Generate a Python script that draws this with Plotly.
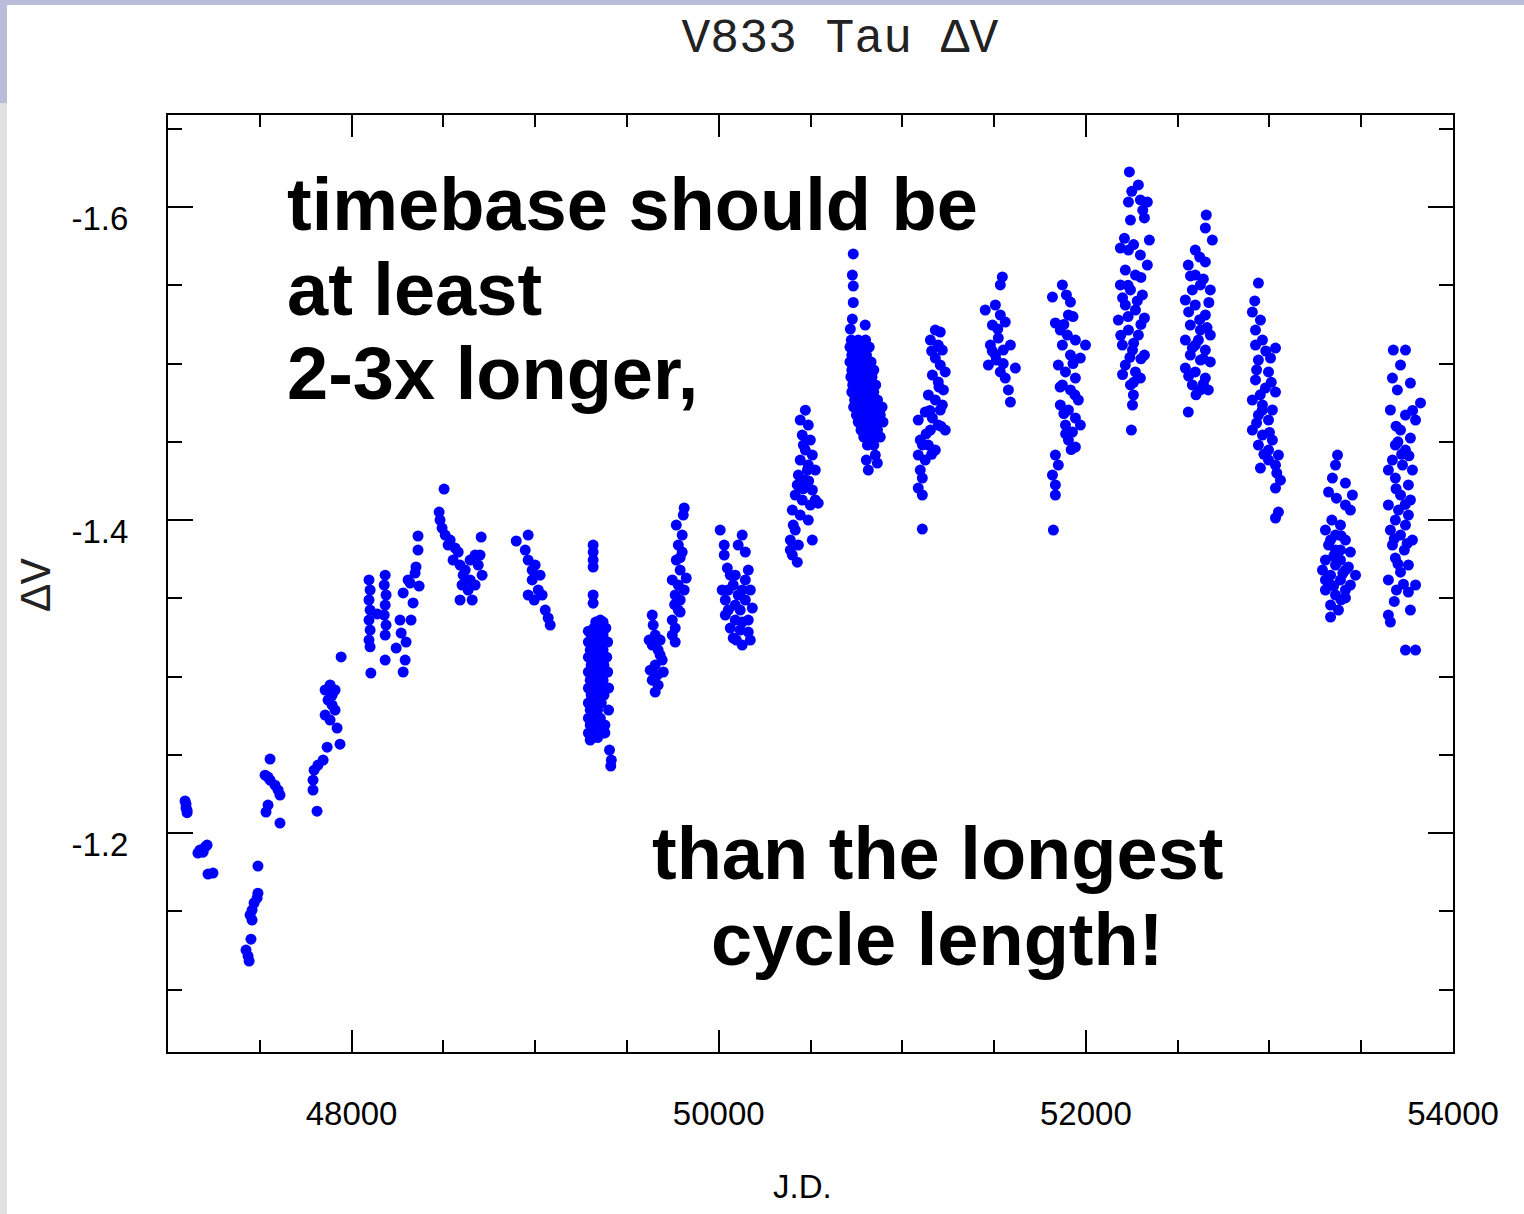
import plotly.graph_objects as go

# ---- V833 Tau differential V photometry, grouped by observing season ----
jd_a = [47093, 47098, 47098, 47104, 47104]
dv_a = [-1.2205, -1.2185, -1.2160, -1.2145, -1.2130]

jd_b = [47174, 47202, 47213, 47191, 47163, 47218, 47245]
dv_b = [-1.1891, -1.1910, -1.1923, -1.1878, -1.1872, -1.1738, -1.1744]

jd_c = [47490, 47490, 47485, 47469, 47458, 47447, 47458, 47452, 47425, 47436, 47442]
dv_c = [-1.1789, -1.1616, -1.1584, -1.1553, -1.1508, -1.1476, -1.1444, -1.1322, -1.1252, -1.1214, -1.1182]

jd_d = [47556, 47529, 47545, 47556, 47583, 47600, 47610, 47545, 47534, 47610]
dv_d = [-1.2473, -1.2370, -1.2358, -1.2338, -1.2306, -1.2274, -1.2243, -1.2179, -1.2134, -1.2064]

jd_e = [47812, 47790, 47790, 47796, 47817, 47845, 47867, 47937, 47856, 47883,
        47910, 47872, 47894, 47910, 47856, 47883, 47921, 47894, 47943]
dv_e = [-1.2140, -1.2275, -1.2338, -1.2402, -1.2434, -1.2466, -1.2549, -1.2568, -1.2914, -1.2946,
        -1.2914, -1.2850, -1.2818, -1.2786, -1.2754, -1.2722, -1.2671, -1.2880, -1.3125]

jd_f = [48095, 48101, 48095, 48101, 48095, 48101, 48095, 48101, 48105,
        48183, 48178, 48188, 48183, 48178, 48188, 48183, 48183, 48140,
        48308, 48281, 48335, 48264, 48324, 48270, 48297, 48243, 48292, 48281,
        48362, 48362, 48351, 48346, 48368, 48319]
dv_f = [-1.3617, -1.3553, -1.3489, -1.3425, -1.3361, -1.3297, -1.3233, -1.3190, -1.3022,
        -1.3648, -1.3585, -1.3521, -1.3457, -1.3393, -1.3329, -1.3265, -1.3105, -1.3400,
        -1.3617, -1.3534, -1.3470, -1.3361, -1.3361, -1.3278, -1.3220, -1.3182, -1.3105, -1.3029,
        -1.3898, -1.3808, -1.3700, -1.3661, -1.3578, -1.3597]

jd_g = [48504, 48477, 48482, 48493, 48510, 48537, 48564, 48526, 48581, 48553,
        48591, 48619, 48646, 48673, 48690, 48711, 48646, 48602, 48635, 48591,
        48657, 48700, 48706, 48608, 48673]
dv_g = [-1.4198, -1.4051, -1.4000, -1.3949, -1.3904, -1.3872, -1.3821, -1.3840, -1.3795, -1.3744,
        -1.3712, -1.3680, -1.3744, -1.3776, -1.3712, -1.3648, -1.3617, -1.3585, -1.3553, -1.3489,
        -1.3489, -1.3776, -1.3891, -1.3648, -1.3585]

jd_h = [48897, 48962, 48946, 48962, 48984, 49000, 49027, 48984, 49017, 49038,
        48962, 48995, 49055, 49071, 49082]
dv_h = [-1.3866, -1.3904, -1.3808, -1.3744, -1.3680, -1.3712, -1.3648, -1.3617, -1.3553, -1.3521,
        -1.3521, -1.3489, -1.3425, -1.3374, -1.3329]

jd_i = [49316, 49316, 49316, 49316, 49316, 49316,
        49330, 49355, 49370,
        49290, 49320, 49350, 49385,
        49305, 49340, 49370,
        49290, 49320, 49355, 49395,
        49300, 49335, 49370,
        49290, 49320, 49350, 49390,
        49305, 49340, 49375,
        49290, 49320, 49355, 49395,
        49300, 49335, 49370,
        49290, 49320, 49355, 49400,
        49305, 49340, 49375,
        49290, 49325, 49360,
        49300, 49340, 49400,
        49290, 49320, 49355,
        49300, 49335, 49380,
        49290, 49320, 49370,
        49300, 49340, 49380, 49405, 49415, 49412]
dv_i = [-1.3840, -1.3795, -1.3744, -1.3700, -1.3521, -1.3469,
        -1.3348, -1.3361, -1.3348,
        -1.3290, -1.3310, -1.3310, -1.3310,
        -1.3265, -1.3265, -1.3265,
        -1.3220, -1.3220, -1.3220, -1.3220,
        -1.3169, -1.3169, -1.3169,
        -1.3124, -1.3124, -1.3124, -1.3124,
        -1.3073, -1.3073, -1.3073,
        -1.3029, -1.3029, -1.3029, -1.3029,
        -1.2977, -1.2977, -1.2977,
        -1.2926, -1.2926, -1.2926, -1.2926,
        -1.2882, -1.2882, -1.2882,
        -1.2831, -1.2831, -1.2831,
        -1.2786, -1.2786, -1.2786,
        -1.2734, -1.2734, -1.2734,
        -1.2690, -1.2690, -1.2690,
        -1.2639, -1.2639, -1.2639,
        -1.2594, -1.2610, -1.2640, -1.2530, -1.2466, -1.2428]

jd_j = [49638, 49643, 49654, 49638, 49670, 49681, 49692, 49654, 49627, 49665,
        49698, 49638, 49670, 49654, 49621, 49681]
dv_j = [-1.3393, -1.3329, -1.3265, -1.3201, -1.3169, -1.3137, -1.3105, -1.3073, -1.3041, -1.3009,
        -1.3029, -1.2977, -1.2945, -1.2901, -1.3233, -1.3233]

jd_k = [49812, 49807, 49769, 49801, 49780, 49801, 49769, 49790, 49823, 49747,
        49780, 49812, 49763, 49790, 49780, 49747, 49763, 49747, 49763, 49790,
        49790, 49760]
dv_k = [-1.4077, -1.4032, -1.3968, -1.3904, -1.3840, -1.3795, -1.3744, -1.3680, -1.3629, -1.3617,
        -1.3585, -1.3553, -1.3521, -1.3489, -1.3425, -1.3361, -1.3310, -1.3265, -1.3220, -1.3412,
        -1.3760, -1.3460]

jd_l = [50008, 50030, 50030, 50047, 50019, 50036, 50052, 50090, 50117, 50096,
        50128, 50063, 50106, 50128, 50145, 50161, 50172, 50145, 50183, 50161,
        50117, 50079, 50063, 50145, 50106, 50090, 50172, 50079, 50161,
        50052, 50128, 50090, 50128, 50036]
dv_l = [-1.3936, -1.3840, -1.3776, -1.3693, -1.3553, -1.3489, -1.3425, -1.3361, -1.3297, -1.3233,
        -1.3201, -1.3310, -1.3840, -1.3904, -1.3795, -1.3680, -1.3553, -1.3489, -1.3438, -1.3361,
        -1.3425, -1.3585, -1.3648, -1.3617, -1.3521, -1.3457, -1.3233, -1.3246, -1.3284,
        -1.3553, -1.3553, -1.3648, -1.3348, -1.3393]

jd_m = [50472, 50444, 50488, 50455, 50499, 50472, 50510, 50444, 50488, 50526,
        50434, 50472, 50510, 50417, 50455, 50499, 50526, 50401, 50444, 50488,
        50417, 50390, 50434, 50401, 50428, 50510, 50542,
        50461, 50428, 50483, 50406, 50390, 50460, 50490]
dv_m = [-1.4702, -1.4639, -1.4607, -1.4543, -1.4511, -1.4447, -1.4415, -1.4383, -1.4351, -1.4319,
        -1.4287, -1.4255, -1.4192, -1.4160, -1.4128, -1.4096, -1.4128, -1.4064, -1.4032, -1.4000,
        -1.3936, -1.3872, -1.3840, -1.3776, -1.3731, -1.3872, -1.4108,
        -1.4479, -1.4224, -1.4319, -1.3968, -1.3808, -1.4200, -1.4250]

jd_n = [50722, 50760, 50800,
        50715, 50745, 50785, 50820,
        50725, 50765, 50805,
        50715, 50750, 50790, 50830,
        50725, 50765, 50810, 50845,
        50720, 50755, 50795, 50835,
        50730, 50770, 50815, 50855,
        50725, 50760, 50800, 50845,
        50740, 50780, 50825, 50865,
        50735, 50770, 50810, 50855, 50890,
        50750, 50790, 50835, 50880,
        50760, 50800, 50845, 50895,
        50775, 50820, 50865,
        50790, 50835, 50880,
        50810, 50845,
        50804, 50853, 50815, 50864,
        50733, 50728, 50733, 50733, 50728, 50717, 50798]
dv_n = [-1.5150, -1.5150, -1.5150,
        -1.5105, -1.5105, -1.5105, -1.5105,
        -1.5054, -1.5054, -1.5054,
        -1.5010, -1.5010, -1.5010, -1.5010,
        -1.4958, -1.4958, -1.4958, -1.4958,
        -1.4914, -1.4914, -1.4914, -1.4914,
        -1.4863, -1.4863, -1.4863, -1.4863,
        -1.4818, -1.4818, -1.4818, -1.4818,
        -1.4767, -1.4767, -1.4767, -1.4767,
        -1.4722, -1.4722, -1.4722, -1.4722, -1.4722,
        -1.4671, -1.4671, -1.4671, -1.4671,
        -1.4626, -1.4626, -1.4626, -1.4626,
        -1.4575, -1.4575, -1.4575,
        -1.4530, -1.4530, -1.4530,
        -1.4479, -1.4479,
        -1.4383, -1.4415, -1.4319, -1.4364,
        -1.5700, -1.5565, -1.5495, -1.5390, -1.5284, -1.5220, -1.5246]

jd_o = [51180, 51207, 51153, 51196, 51218, 51180, 51207, 51234, 51164, 51196,
        51224, 51142, 51180, 51218, 51125, 51164, 51196, 51234, 51098, 51142,
        51180, 51087, 51125, 51098, 51109, 51087, 51109, 51207, 51153, 51109, 51087,
        51160, 51200, 51150, 51210, 51130, 51160, 51110]
dv_o = [-1.5214, -1.5201, -1.5150, -1.5118, -1.5086, -1.5035, -1.4990, -1.4946, -1.4926, -1.4882,
        -1.4831, -1.4799, -1.4767, -1.4735, -1.4690, -1.4652, -1.4607, -1.4575, -1.4511, -1.4479,
        -1.4447, -1.4415, -1.4383, -1.4319, -1.4268, -1.4204, -1.4160, -1.4703, -1.4575, -1.3942, -1.4639,
        -1.5080, -1.4850, -1.4700, -1.4600, -1.4550, -1.4420, -1.4480]

jd_p = [51545, 51534, 51452, 51507, 51534, 51491, 51561, 51523, 51480, 51550,
        51589, 51512, 51469, 51534, 51561, 51578, 51589, 51507, 51616,
        51520, 51490, 51550]
dv_p = [-1.5553, -1.5502, -1.5342, -1.5374, -1.5310, -1.5246, -1.5265, -1.5163, -1.5118, -1.5086,
        -1.5118, -1.5022, -1.4990, -1.4946, -1.4907, -1.4831, -1.4754, -1.5054, -1.4971,
        -1.5220, -1.5080, -1.5000]

jd_q = [51818, 51872, 51894, 51916, 51905, 51834, 51861, 51899, 51943, 51872,
        51916, 51970, 51850, 51889, 51943, 51872, 51916, 51959, 51861, 51905,
        51943, 51889, 51927, 51905, 51943, 51834, 51850, 51818, 51834, 51834,
        51823, 51998, 51970,
        51880, 51930, 51860, 51940, 51880, 51920, 51890, 51930]
dv_q = [-1.5425, -1.5502, -1.5438, -1.5393, -1.5310, -1.5259, -1.5214, -1.5182, -1.5150, -1.5118,
        -1.5054, -1.5035, -1.4990, -1.4946, -1.4907, -1.4863, -1.4831, -1.4767, -1.4735, -1.4703,
        -1.4652, -1.4607, -1.4562, -1.4511, -1.4466, -1.4415, -1.4351, -1.4287, -1.4224, -1.4160,
        -1.3936, -1.5118, -1.4607,
        -1.5250, -1.5000, -1.4850, -1.4800, -1.4680, -1.4450, -1.4550, -1.5300]

jd_r = [52237, 52286, 52232, 52297, 52335, 52243, 52319, 52188, 52232, 52297,
        52335, 52215, 52270, 52188, 52243, 52308, 52215, 52270, 52319, 52177,
        52232, 52286, 52199, 52254, 52319, 52215, 52270, 52243, 52259, 52254,
        52248, 52346, 52297,
        52210, 52260, 52300, 52200, 52280, 52230, 52300, 52190, 52260, 52300,
        52240, 52200, 52260, 52230, 52310, 52250]
dv_r = [-1.6224, -1.6141, -1.6032, -1.6045, -1.6032, -1.5917, -1.5930, -1.5738, -1.5725, -1.5693,
        -1.5629, -1.5597, -1.5565, -1.5502, -1.5470, -1.5438, -1.5374, -1.5342, -1.5291, -1.5278,
        -1.5214, -1.5182, -1.5118, -1.5086, -1.5054, -1.4990, -1.4946, -1.4863, -1.4799, -1.4735,
        -1.4575, -1.5789, -1.4907,
        -1.5800, -1.5760, -1.5550, -1.5420, -1.5400, -1.5300, -1.5250, -1.5180, -1.5130, -1.5030,
        -1.5040, -1.4930, -1.4880, -1.5500, -1.5980, -1.6100]

jd_s = [52656, 52651, 52689, 52596, 52651, 52558, 52596, 52624, 52678, 52542,
        52596, 52651, 52569, 52624, 52678, 52542, 52596, 52651, 52569, 52624,
        52678, 52542, 52596, 52651, 52580, 52624, 52558, 52667, 52613, 52580,
        52620, 52570, 52640, 52560, 52620, 52660, 52580, 52640, 52560, 52640, 52600, 52670]
dv_s = [-1.5949, -1.5866, -1.5789, -1.5725, -1.5649, -1.5629, -1.5565, -1.5502, -1.5470, -1.5406,
        -1.5374, -1.5310, -1.5246, -1.5214, -1.5182, -1.5150, -1.5118, -1.5086, -1.5054, -1.5022,
        -1.5010, -1.4971, -1.4946, -1.4907, -1.4863, -1.4831, -1.4690, -1.4831, -1.5150, -1.5470,
        -1.5680, -1.5560, -1.5540, -1.5330, -1.5280, -1.5230, -1.5100, -1.5030, -1.4920, -1.4870, -1.4800, -1.5390]

jd_t = [52940, 52907, 52951, 52924, 52962, 52924, 53033, 53006, 52940, 52995,
        52924, 52978, 53033, 52907, 52962, 53016, 52940, 52995, 52907, 52962,
        53016, 52940, 52995, 53049, 52995, 53033, 52951, 53060, 53033, 53049, 53033,
        52920, 52980, 52930, 53010, 52950, 52930, 53000, 52970, 53040, 52960]
dv_t = [-1.5514, -1.5329, -1.5278, -1.5214, -1.5150, -1.5118, -1.5099, -1.5035, -1.5022, -1.4946,
        -1.4895, -1.4843, -1.4818, -1.4767, -1.4735, -1.4703, -1.4671, -1.4639, -1.4575, -1.4543,
        -1.4511, -1.4479, -1.4447, -1.4415, -1.4383, -1.4351, -1.4332, -1.4255, -1.4204, -1.4051, -1.4013,
        -1.5400, -1.5080, -1.4960, -1.4880, -1.4800, -1.4620, -1.4560, -1.4420, -1.4300, -1.4700]

jd_u = [53371, 53360, 53343, 53414, 53322, 53452, 53365, 53414, 53441, 53387,
        53305, 53360, 53414, 53322, 53387, 53441, 53305, 53360, 53414, 53333,
        53387, 53441, 53305, 53360, 53414, 53333, 53376, 53333, 53289, 53469,
        53333, 53387, 53305, 53414, 53360,
        53340, 53390, 53350, 53400, 53350, 53390, 53320, 53430]
dv_u = [-1.4415, -1.4351, -1.4268, -1.4236, -1.4179, -1.4160, -1.4140, -1.4096, -1.4064, -1.3968,
        -1.3936, -1.3904, -1.3872, -1.3840, -1.3808, -1.3795, -1.3744, -1.3712, -1.3680, -1.3648,
        -1.3617, -1.3585, -1.3553, -1.3521, -1.3502, -1.3457, -1.3425, -1.3380, -1.3680, -1.3648,
        -1.3872, -1.3744, -1.3617, -1.3553, -1.3808,
        -1.4000, -1.3900, -1.3770, -1.3660, -1.3580, -1.3490, -1.3600, -1.3700]

jd_v = [53675, 53741, 53714, 53670, 53768, 53697, 53823, 53659, 53741, 53796,
        53714, 53768, 53686, 53741, 53670, 53725, 53779, 53648, 53686, 53757,
        53714, 53768, 53648, 53703, 53757, 53686, 53741, 53659, 53714, 53779,
        53670, 53735, 53686, 53757, 53714, 53648, 53796, 53692, 53757, 53768,
        53648, 53659, 53741, 53796,
        53700, 53760, 53690, 53740, 53680, 53750, 53700, 53730, 53680, 53720, 53780, 53690]
dv_v = [-1.5086, -1.5086, -1.4990, -1.4907, -1.4875, -1.4831, -1.4748, -1.4703, -1.4671, -1.4639,
        -1.4575, -1.4524, -1.4479, -1.4447, -1.4383, -1.4351, -1.4319, -1.4319, -1.4268, -1.4224,
        -1.4160, -1.4128, -1.4096, -1.4064, -1.4032, -1.4000, -1.3968, -1.3936, -1.3904, -1.3872,
        -1.3840, -1.3808, -1.3757, -1.3712, -1.3667, -1.3617, -1.3585, -1.3553, -1.3540, -1.3425,
        -1.3393, -1.3348, -1.3169, -1.3169,
        -1.4500, -1.4410, -1.4200, -1.4100, -1.3880, -1.3850, -1.3720, -1.3590, -1.3480, -1.4420, -1.4700, -1.4600]

seasons_jd = [jd_a, jd_b, jd_c, jd_d, jd_e, jd_f, jd_g, jd_h, jd_i, jd_j, jd_k,
              jd_l, jd_m, jd_n, jd_o, jd_p, jd_q, jd_r, jd_s, jd_t, jd_u, jd_v]
seasons_dv = [dv_a, dv_b, dv_c, dv_d, dv_e, dv_f, dv_g, dv_h, dv_i, dv_j, dv_k,
              dv_l, dv_m, dv_n, dv_o, dv_p, dv_q, dv_r, dv_s, dv_t, dv_u, dv_v]

x_tickvals = [48000, 50000, 52000, 54000]
x_ticktext = ["48000", "50000", "52000", "54000"]
y_tickvals = [-1.6, -1.4, -1.2]
y_ticktext = ["-1.6", "-1.4", "-1.2"]

all_jd = [v for s in seasons_jd for v in s]
all_dv = [v for s in seasons_dv for v in s]

fig = go.Figure()
fig.add_trace(go.Scatter(
    x=all_jd, y=all_dv, mode="markers",
    marker=dict(color="#0000ff", size=11, line=dict(width=0)),
    showlegend=False,
))

W, H = 1524, 1214
L, R, T, B = 168, 71, 115, 162
pw, ph = W - L - R, H - T - B


def px(xp):
    return (xp - L) / pw


def py(yp):
    return (H - B - yp) / ph


sans = "Liberation Sans, Arial, sans-serif"
mono = "Liberation Mono, Courier New, monospace"

axis_common = dict(
    showline=True, linecolor="black", linewidth=2, mirror="allticks",
    ticks="inside", tickwidth=2, tickcolor="black",
    showgrid=False, zeroline=False,
    tickfont=dict(family=sans, size=33, color="black"),
    tickmode="array",
)

fig.update_layout(
    width=W, height=H, autosize=False,
    margin=dict(l=L, r=R, t=T, b=B, pad=0),
    paper_bgcolor="white", plot_bgcolor="white",
    title=dict(text="V833 Tau ΔV", x=840 / W, xanchor="center", xref="container",
               y=1 - 35 / H, yanchor="middle", yref="container",
               font=dict(family=mono, size=48, color="#222222")),
    xaxis=dict(range=[47000, 54000], tickvals=x_tickvals, ticktext=x_ticktext,
               ticklen=22, ticklabelstandoff=31,
               minor=dict(dtick=500, tick0=47000, ticklen=12, tickwidth=2,
                          tickcolor="black", ticks="inside", showgrid=False),
               **axis_common),
    yaxis=dict(range=[-1.0601, -1.6588], tickvals=y_tickvals, ticktext=y_ticktext,
               ticklen=25, ticklabelstandoff=31, ticklabelshift=-11,
               minor=dict(dtick=0.05, tick0=-1.6, ticklen=14, tickwidth=2,
                          tickcolor="black", ticks="inside", showgrid=False),
               **axis_common),
    shapes=[
        dict(type="rect", xref="paper", yref="paper", layer="below",
             x0=px(0), x1=px(7), y0=py(H), y1=py(103),
             fillcolor="#e0e0e0", line=dict(width=0)),
        dict(type="rect", xref="paper", yref="paper", layer="below",
             x0=px(0), x1=px(7), y0=py(103), y1=py(0),
             fillcolor="#b9bdd9", line=dict(width=0)),
        dict(type="rect", xref="paper", yref="paper", layer="below",
             x0=px(0), x1=px(W), y0=py(5), y1=py(0),
             fillcolor="#b9bdd9", line=dict(width=0)),
    ],
)

# axis titles
fig.add_annotation(text="J.D.", x=px(802), y=py(1186), xref="paper", yref="paper",
                   showarrow=False, xanchor="center", yanchor="middle",
                   font=dict(family=sans, size=33, color="black"))
fig.add_annotation(text="ΔV", x=px(38), y=py(585), xref="paper", yref="paper",
                   showarrow=False, xanchor="center", yanchor="middle", textangle=-90,
                   font=dict(family=mono, size=44, color="#222222"))

# overlaid remarks
remarks_left = [("timebase should be", 204), ("at least", 289), ("2-3x longer,", 374)]
remarks_center = [("than the longest", 854), ("cycle length!", 939)]
for txt, yp in remarks_left:
    fig.add_annotation(text=txt, x=px(285), y=py(yp), xref="paper", yref="paper",
                       showarrow=False, xanchor="left", yanchor="middle",
                       font=dict(family=sans, size=74, color="black", weight="bold"))
for txt, yp in remarks_center:
    fig.add_annotation(text=txt, x=px(937), y=py(yp), xref="paper", yref="paper",
                       showarrow=False, xanchor="center", yanchor="middle",
                       font=dict(family=sans, size=74, color="black", weight="bold"))

fig.write_html("out.html")
